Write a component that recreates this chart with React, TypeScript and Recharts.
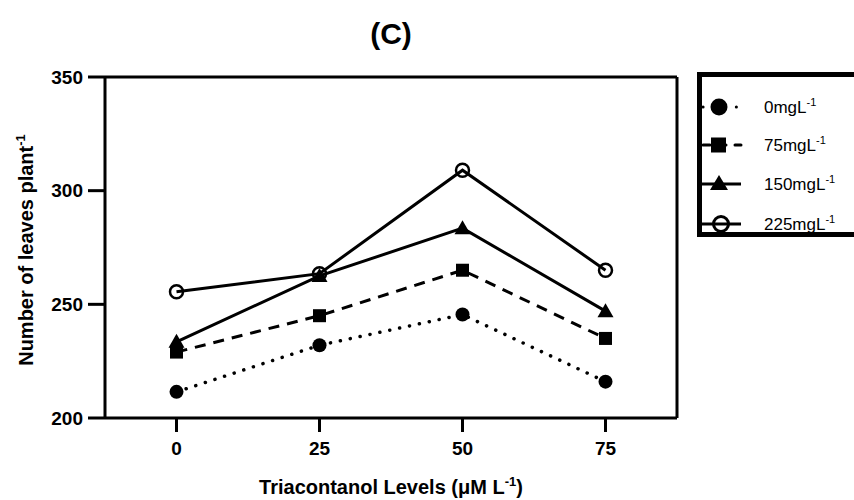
import React from "react";
import {
  LineChart,
  Line,
  XAxis,
  YAxis,
  ReferenceLine,
  Label,
} from "recharts";

// Triacontanol levels (µM L-1)
const levels = [0, 25, 50, 75];
// number of leaves per plant for each salt level
const salt0 = [211.5, 232, 245.5, 216];
const salt75 = [229, 245, 265, 235];
const salt150 = [233.5, 262.5, 283.5, 247];
const salt225 = [255.5, 263.5, 309, 265];
const yTicks = [200, 250, 300, 350];
const seriesNames = ["0mgL", "75mgL", "150mgL", "225mgL"];

const data = levels.map((x, i) => ({
  x,
  s0: salt0[i],
  s75: salt75[i],
  s150: salt150[i],
  s225: salt225[i],
}));

const FONT = "'Liberation Sans', Arial, sans-serif";

const FilledCircle = (props: any) => (
  <circle key={props.index} cx={props.cx} cy={props.cy} r={7} fill="#000" />
);
const FilledSquare = (props: any) => (
  <rect key={props.index} x={props.cx - 6.5} y={props.cy - 6.5} width={13} height={13} fill="#000" />
);
const FilledTriangle = (props: any) => (
  <polygon
    key={props.index}
    points={`${props.cx},${props.cy - 8} ${props.cx - 8},${props.cy + 6} ${props.cx + 8},${props.cy + 6}`}
    fill="#000"
  />
);
const OpenCircle = (props: any) => (
  <circle key={props.index} cx={props.cx} cy={props.cy} r={6.5} fill="none" stroke="#000" strokeWidth={2.5} />
);

const tickStyle = { fill: "#000", fontSize: 19, fontWeight: 700, fontFamily: FONT };

function LegendBox() {
  const rows = [
    { dash: "0.1 11", marker: <circle cx={22} cy={0} r={8.5} fill="#000" /> },
    { dash: "7 9", marker: <rect x={14} y={-7.5} width={15} height={15} fill="#000" /> },
    { dash: undefined, marker: <polygon points="22,-9 13,6 31,6" fill="#000" /> },
    { dash: undefined, marker: <circle cx={24} cy={0} r={7.5} fill="none" stroke="#000" strokeWidth={3} /> },
  ];
  // row centres, measured from the legend box top
  const ys = [35, 73, 112, 152];
  return (
    <div
      style={{
        position: "absolute",
        left: 697,
        top: 72,
        width: 170,
        height: 165,
        border: "5px solid #000",
        boxSizing: "border-box",
        background: "#fff",
      }}
    >
      {rows.map((r, i) => (
        <div
          key={i}
          style={{ position: "absolute", left: 0, top: ys[i] - 5 - 12, height: 24, width: 165 }}
        >
          <svg width={50} height={24} style={{ position: "absolute", left: -5, top: 0 }}>
            <g transform="translate(0,12)">
              <line
                x1={r.dash ? 6 : 2}
                y1={0}
                x2={44}
                y2={0}
                stroke="#000"
                strokeWidth={3}
                strokeDasharray={r.dash}
                strokeLinecap={r.dash ? "round" : "butt"}
              />
              {r.marker}
            </g>
          </svg>
          <span
            style={{
              position: "absolute",
              left: 62,
              top: 1,
              fontFamily: FONT,
              fontSize: 17,
              color: "#000",
              whiteSpace: "nowrap",
            }}
          >
            {seriesNames[i]}
            <sup style={{ fontSize: 11 }}>-1</sup>
          </span>
        </div>
      ))}
    </div>
  );
}

const XTitle = () => (
  <text x={391} y={494} textAnchor="middle" style={{ fontFamily: FONT, fontSize: 20, fontWeight: 700 }} fill="#000">
    Triacontanol Levels (μM L
    <tspan dy={-8} fontSize={13}>-1</tspan>
    <tspan dy={8}>)</tspan>
  </text>
);

const YTitle = () => (
  <text
    x={0}
    y={0}
    transform="translate(33,250) rotate(-90)"
    textAnchor="middle"
    style={{ fontFamily: FONT, fontSize: 20, fontWeight: 700 }}
    fill="#000"
  >
    Number of leaves plant
    <tspan dy={-8} fontSize={13}>-1</tspan>
  </text>
);

export default function App() {
  return (
    <div
      style={{
        position: "absolute",
        left: 0,
        top: 0,
        width: 854,
        height: 500,
        overflow: "hidden",
        background: "#fff",
      }}
    >
      <div
        style={{
          position: "absolute",
          left: 291,
          top: 15,
          width: 200,
          textAlign: "center",
          fontFamily: FONT,
          fontSize: 30,
          fontWeight: 700,
          lineHeight: "38px",
        }}
      >
        (C)
      </div>
      <LineChart
        width={854}
        height={500}
        data={data}
        margin={{ top: 77, right: 177, bottom: 42, left: 35 }}
      >
        <XAxis
          dataKey="x"
          type="number"
          domain={[-12.5, 87.5]}
          ticks={levels}
          allowDataOverflow
          height={40}
          tickSize={14}
          tickMargin={10}
          axisLine={{ stroke: "#000", strokeWidth: 3 }}
          tickLine={{ stroke: "#000", strokeWidth: 3 }}
          tick={tickStyle}
        >
          <Label content={<XTitle />} />
        </XAxis>
        <YAxis
          type="number"
          domain={[200, 350]}
          ticks={yTicks}
          allowDataOverflow
          width={70}
          tickSize={17}
          tickMargin={5}
          axisLine={{ stroke: "#000", strokeWidth: 3 }}
          tickLine={{ stroke: "#000", strokeWidth: 3 }}
          tick={tickStyle}
        >
          <Label content={<YTitle />} />
        </YAxis>
        <ReferenceLine y={350} stroke="#000" strokeWidth={3} />
        <ReferenceLine x={87.5} stroke="#000" strokeWidth={3} />
        <Line
          dataKey="s0"
          stroke="#000"
          strokeWidth={3.5}
          strokeDasharray="0.1 10"
          strokeLinecap="round"
          dot={FilledCircle}
          activeDot={false}
          isAnimationActive={false}
        />
        <Line
          dataKey="s75"
          stroke="#000"
          strokeWidth={3}
          strokeDasharray="11 8"
          dot={FilledSquare}
          activeDot={false}
          isAnimationActive={false}
        />
        <Line
          dataKey="s150"
          stroke="#000"
          strokeWidth={3}
          dot={FilledTriangle}
          activeDot={false}
          isAnimationActive={false}
        />
        <Line
          dataKey="s225"
          stroke="#000"
          strokeWidth={3}
          dot={OpenCircle}
          activeDot={false}
          isAnimationActive={false}
        />
      </LineChart>
      <LegendBox />
    </div>
  );
}
